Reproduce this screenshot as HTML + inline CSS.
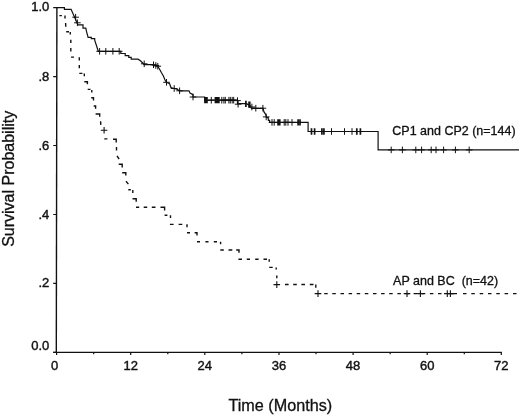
<!DOCTYPE html>
<html><head><meta charset="utf-8"><title>Survival Probability</title>
<style>
html,body{margin:0;padding:0;background:#fff;}
svg{display:block;font-family:"Liberation Sans",Arial,sans-serif;fill:#111;}
text{stroke:#111;stroke-width:0.4px;}
.t,.l text{stroke-width:0.3px;}
</style></head><body>
<svg width="520" height="417" viewBox="0 0 520 417">
<rect width="520" height="417" fill="#fff" stroke="none"/>
<g fill="none" stroke="#111" stroke-width="1.2">
<path d="M56.9 7.1L56.3 352.3" stroke-width="1.4"/>
<path d="M53.2 352.4H501.9"/>
<path d="M56.6 352.3V355.0M93.7 352.3V354.3M130.7 352.3V355.0M167.8 352.3V354.3M204.8 352.3V355.0M241.9 352.3V354.3M279.0 352.3V355.0M316.0 352.3V354.3M353.1 352.3V355.0M390.2 352.3V354.3M427.2 352.3V355.0M464.3 352.3V354.3M501.3 352.3V355.0" stroke-width="1.2"/>
<path d="M53.2 352.3H57M53.2 283.4H57M53.2 214.5H57M53.2 145.5H57M53.2 76.6H57M53.2 7.7H57" stroke-width="1.2"/>
<polyline points="57.0,7.7 64.4,7.7 64.4,9.3 71.1,9.3 77.9,24.8 83.0,24.8 83.0,28.2 85.8,28.2 86.6,31.8 88.1,37.3 91.3,37.3 91.3,38.6 94.7,38.6 94.7,40.2 98.3,51.3 120.8,51.3 120.8,53.5 125.2,53.5 125.2,55.6 128.8,55.6 128.8,57.4 131.2,57.4 131.2,59.2 138.0,59.2 140.4,60.8 142.7,63.0 144.2,64.6 153.5,64.6 157.8,66.2 159.6,69.2 161.2,72.3 163.5,76.2 165.0,80.0 166.5,82.3 169.6,83.8 171.0,87.7 174.2,88.5 177.0,89.2 179.6,90.8 189.0,90.8 190.0,93.0 193.0,94.6 193.0,97.0 204.6,97.0 204.6,100.2 237.5,100.2 237.5,103.7 246.5,103.7 250.4,106.0 251.4,108.3 263.0,108.3 264.0,111.9 265.7,114.4 266.6,117.4 268.2,117.6 268.4,120.4 269.6,120.4 269.6,122.4 308.1,122.4 308.1,131.5 378.1,131.5 378.1,149.9 519.0,149.9"/>
<path d="M59.4 15.6 L61.9 15.6M65.0 15.5 L65.0 18.6M65.6 23.0 L65.8 26.7M66.2 31.7 L69.0 31.7M70.3 32.0 L70.3 34.5M70.8 39.8 L70.8 42.9M70.8 47.9 L70.8 51.6M71.0 57.1 L74.0 57.1M79.3 57.2 L79.3 60.5M79.3 65.1 L79.3 68.2M79.3 73.4 L82.4 73.4M84.3 73.4 L84.3 76.3M84.3 81.7 L87.4 81.7 L87.4 84.2M87.7 89.4 L90.5 89.4M91.8 90.0 L91.8 92.5M91.2 97.8 L93.5 97.8 L93.5 100.6M93.7 106.0 L95.6 106.0 L95.6 108.7M95.6 114.0 L99.7 114.0 L99.7 116.8M100.6 121.2 L100.8 124.9M104.3 138.9 L107.4 138.9M113.0 139.3 L116.2 139.3 L116.2 142.4M116.5 146.9 L116.5 150.6M117.0 155.9 L119.1 159.0M118.7 164.3 L122.2 164.3 L122.2 167.4M122.2 172.7 L125.8 172.7 L125.8 175.5M126.0 181.3 L128.4 184.1M128.3 189.8 L130.8 189.8M132.8 190.0 L132.8 193.1M132.5 198.7 L136.2 198.7 L136.2 201.8M136.0 207.2 L139.2 207.2M143.7 207.2 L147.2 207.2M151.8 207.2 L155.5 207.2M160.5 207.2 L164.6 207.2 L164.6 210.5M164.6 215.3 L167.4 215.3M170.5 215.3 L170.5 218.0M169.9 224.4 L173.6 224.4M178.6 224.4 L182.3 224.4M187.0 224.2 L187.0 227.2M187.0 232.8 L190.0 232.8M194.6 232.8 L197.0 232.8 L197.0 235.4M197.0 241.8 L200.0 241.8M205.4 241.8 L208.5 241.8M213.8 241.8 L217.0 241.8M220.6 241.8 L220.6 244.2M220.3 250.0 L223.8 250.0M228.5 250.0 L232.3 250.0M236.2 250.0 L239.0 250.0 L239.0 252.8M238.4 259.2 L242.0 259.2M246.8 259.2 L250.0 259.2M255.2 259.2 L258.6 259.2M263.5 259.2 L267.0 259.2M269.2 259.2 L269.2 261.8M269.2 267.4 L272.7 267.4M276.2 267.4 L276.2 269.5M276.8 275.4 L276.8 278.2M285.0 284.5 L288.6 284.5M293.2 284.5 L296.8 284.5M301.4 284.5 L305.0 284.5M309.8 284.5 L313.5 284.5M315.8 284.6 L315.8 287.7M324.2 293.6 L327.7 293.6M332.3 293.6 L335.8 293.6M340.5 293.6 L344.0 293.6M348.6 293.6 L352.1 293.6M356.7 293.6 L360.2 293.6M364.8 293.6 L368.3 293.6M373.0 293.6 L376.5 293.6M381.1 293.6 L384.6 293.6M389.2 293.6 L392.7 293.6M397.4 293.6 L400.9 293.6M405.5 293.6 L409.0 293.6M413.6 293.6 L417.1 293.6M421.8 293.6 L425.3 293.6M429.9 293.6 L433.4 293.6M438.0 293.6 L441.5 293.6M463.0 293.6 L466.5 293.6M471.3 293.6 L474.8 293.6M479.7 293.6 L483.2 293.6M488.0 293.6 L491.5 293.6M496.3 293.6 L499.8 293.6M504.6 293.6 L508.1 293.6M513.0 293.6 L516.5 293.6M447.3 293.6 L457.0 293.6" stroke-width="1.4"/>
<path d="M72.3 17.2H78.9M75.6 13.9V20.5M74.1 22.8H80.7M77.4 19.5V26.1M96.3 51.3H102.9M99.6 48.0V54.6M102.5 51.3H109.1M105.8 48.0V54.6M109.6 51.3H116.2M112.9 48.0V54.6M115.9 51.3H122.5M119.2 48.0V54.6M140.9 63.8H147.5M144.2 60.5V67.1M150.2 64.8H156.8M153.5 61.5V68.1M152.5 65.5H159.1M155.8 62.2V68.8M154.5 66.2H161.1M157.8 62.9V69.5M163.2 82.3H169.8M166.5 79.0V85.6M170.9 88.5H177.5M174.2 85.2V91.8M176.3 90.8H182.9M179.6 87.5V94.1M189.7 97.0H196.3M193.0 93.7V100.3M208.0 100.2H214.6M211.3 96.9V103.5M218.5 100.2H225.1M221.8 96.9V103.5M220.6 100.2H227.2M223.9 96.9V103.5M222.0 100.2H228.6M225.3 96.9V103.5M225.6 100.2H232.2M228.9 96.9V103.5M227.0 100.2H233.6M230.3 96.9V103.5M228.9 100.2H235.5M232.2 96.9V103.5M230.4 100.2H237.0M233.7 96.9V103.5M234.2 100.6H240.8M237.5 97.3V103.9M234.8 104.2H241.4M238.1 100.9V107.5M248.6 107.0H255.2M251.9 103.7V110.3M252.5 108.2H259.1M255.8 104.9V111.5M259.6 108.2H266.2M262.9 104.9V111.5M262.9 116.9H269.5M266.2 113.6V120.2M268.7 122.4H275.3M272.0 119.1V125.7M270.9 122.4H277.5M274.2 119.1V125.7M280.9 122.4H287.5M284.2 119.1V125.7M282.5 122.4H289.1M285.8 119.1V125.7M284.7 122.4H291.3M288.0 119.1V125.7M288.7 122.4H295.3M292.0 119.1V125.7M328.2 131.5H334.8M331.5 128.2V134.8M341.2 131.5H347.8M344.5 128.2V134.8M348.7 131.5H355.3M352.0 128.2V134.8M387.9 149.9H394.5M391.2 146.6V153.2M399.1 149.9H405.7M402.4 146.6V153.2M412.5 149.9H419.1M415.8 146.6V153.2M418.3 149.9H424.9M421.6 146.6V153.2M427.9 149.9H434.5M431.2 146.6V153.2M432.7 149.9H439.3M436.0 146.6V153.2M440.3 149.9H446.9M443.6 146.6V153.2M452.1 149.9H458.7M455.4 146.6V153.2M465.9 149.9H472.5M469.2 146.6V153.2" stroke-width="1"/>
<path d="M311.5 128.3V134.7M314.6 128.3V134.7M321.9 128.3V134.7M323.9 128.3V134.7M356.8 128.3V134.7M360.4 128.3V134.7M245.9 100.7V107.1M298.1 119.2V125.6M300.0 119.2V125.6" stroke-width="1.7"/>
<path d="M204.1 97.1H207.8V103.3H204.1ZM214.6 97.1H219.7V103.3H214.6ZM277.2 119.3H280.6V125.5H277.2ZM248.2 101.5H250.6V107.7H248.2Z" fill="#111" stroke="none"/>
<path d="M100.8 130.2H107.4M104.1 126.9V133.5M273.5 284.6H280.1M276.8 281.3V287.9M314.7 293.6H321.3M318.0 290.3V296.9M403.7 293.6H410.3M407.0 290.3V296.9M417.1 293.6H423.7M420.4 290.3V296.9M444.0 293.6H450.6M447.3 290.3V296.9M447.1 293.6H453.7M450.4 290.3V296.9" stroke-width="1.1"/>
</g>
<g font-size="13px"><text x="54.7" y="369.6" text-anchor="middle">0</text><text x="130.7" y="369.6" text-anchor="middle">12</text><text x="204.8" y="369.6" text-anchor="middle">24</text><text x="279.0" y="369.6" text-anchor="middle">36</text><text x="353.1" y="369.6" text-anchor="middle">48</text><text x="427.2" y="369.6" text-anchor="middle">60</text><text x="501.3" y="369.6" text-anchor="middle">72</text><text x="49.3" y="350.1" text-anchor="end">0.0</text><text x="49.3" y="287.4" text-anchor="end">.2</text><text x="49.3" y="218.5" text-anchor="end">.4</text><text x="49.3" y="149.5" text-anchor="end">.6</text><text x="49.3" y="80.6" text-anchor="end">.8</text><text x="49.3" y="11.1" text-anchor="end">1.0</text></g>
<g font-size="12px" class="l">
<text transform="translate(392.3 135) scale(1.042 1)">CP1 and CP2 (n=144)</text>
<text transform="translate(393.1 285) scale(1.042 1)" xml:space="preserve">AP and BC  (n=42)</text>
</g>
<text x="280.3" y="411.4" class="t" font-size="16.2px" text-anchor="middle">Time (Months)</text>
<text transform="translate(14.3 178.8) rotate(-90)" class="t" font-size="16px" text-anchor="middle">Survival Probability</text>
</svg>
</body></html>
